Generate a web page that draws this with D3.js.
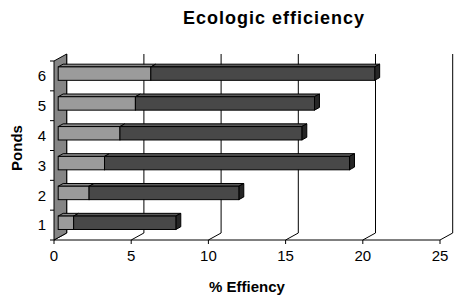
<!DOCTYPE html>
<meta charset="utf-8">
<style>
body { margin: 0; background: #fff; }
text { font-family: Arial, "Liberation Sans", sans-serif; fill: #000; }
.tick-label { font-size: 15px; }
.title { font-size: 18px; font-weight: bold; letter-spacing: 1px; }
.axis-title { font-size: 15px; font-weight: bold; }
</style>
<body>
<script src="https://d3js.org/d3.v7.min.js"></script>
<script>
// ponds, bottom to top
var ponds = ["1", "2", "3", "4", "5", "6"];
// first (light) series and second (dark) series, % efficiency
var lightValues = [1, 2, 3, 4, 5, 6];
var darkValues = [6.62, 9.7, 15.87, 11.78, 11.6, 14.5];
var xTicks = [0, 5, 10, 15, 20, 25];

var width = 454, height = 299;

// depth of the 3d box, and where the bars sit inside it
var depth = {dx: 12.7, dy: -7};
var barFront = 0.33, barBack = 0.72;

var x = d3.scaleLinear().domain([0, 25]).range([54, 440]);
var y = d3.scaleBand().domain(ponds).range([240, 61]);

var svg = d3.select("body").append("svg")
    .attr("width", width)
    .attr("height", height);

var floorY = y.range()[0], topY = y.range()[1];

// back wall gridlines
svg.selectAll(".grid")
    .data(xTicks)
  .enter().append("line")
    .attr("x1", function(d) { return x(d) + depth.dx; })
    .attr("x2", function(d) { return x(d) + depth.dx; })
    .attr("y1", floorY + depth.dy)
    .attr("y2", topY + depth.dy)
    .style("stroke", "#000")
    .style("stroke-width", 1);

// floor slants
svg.selectAll(".floor")
    .data(xTicks)
  .enter().append("line")
    .attr("x1", function(d) { return x(d); })
    .attr("x2", function(d) { return x(d) + depth.dx; })
    .attr("y1", floorY)
    .attr("y2", floorY + depth.dy)
    .style("stroke", "#000")
    .style("stroke-width", 1);

// left wall
var x0 = x(0);
svg.append("polygon")
    .attr("points", [
      [x0, floorY], [x0, topY],
      [x0 + depth.dx, topY + depth.dy], [x0 + depth.dx, floorY + depth.dy]
    ].join(" "))
    .style("fill", "#858585")
    .style("stroke", "#000")
    .style("stroke-width", 1);

// x axis line and ticks
svg.append("line")
    .attr("x1", x(0)).attr("x2", x(25))
    .attr("y1", floorY).attr("y2", floorY)
    .style("stroke", "#000");

svg.selectAll(".xtick")
    .data(xTicks)
  .enter().append("line")
    .attr("x1", function(d) { return x(d); })
    .attr("x2", function(d) { return x(d); })
    .attr("y1", floorY).attr("y2", floorY + 4)
    .style("stroke", "#000");

svg.selectAll(".xlabel")
    .data(xTicks)
  .enter().append("text")
    .attr("class", "tick-label")
    .attr("x", function(d) { return x(d); })
    .attr("y", floorY + 21)
    .attr("text-anchor", "middle")
    .text(function(d) { return d; });

// y ticks at band edges
var yEdges = ponds.map(function(p) { return y(p); }).concat([floorY]);
svg.selectAll(".ytick")
    .data(yEdges)
  .enter().append("line")
    .attr("x1", x0 - 4).attr("x2", x0)
    .attr("y1", function(d) { return d; })
    .attr("y2", function(d) { return d; })
    .style("stroke", "#000");

svg.selectAll(".ylabel")
    .data(ponds)
  .enter().append("text")
    .attr("class", "tick-label")
    .attr("x", x0 - 8)
    .attr("y", function(d) { return y(d) + y.bandwidth() / 2; })
    .attr("dy", ".36em")
    .attr("text-anchor", "end")
    .text(function(d) { return d; });

// bars
var fdx = depth.dx * barFront, fdy = depth.dy * barFront;
var bdx = depth.dx * (barBack - barFront), bdy = depth.dy * (barBack - barFront);
var faceH = y.bandwidth() * 0.45;

function box(g, xa, xb, yt, yb, cols, side) {
  g.append("polygon")
      .attr("points", [[xa, yt], [xb, yt], [xb + bdx, yt + bdy], [xa + bdx, yt + bdy]].join(" "))
      .style("fill", cols.top).style("stroke", "#000").style("stroke-width", 1);
  if (side) {
    g.append("polygon")
        .attr("points", [[xb, yt], [xb + bdx, yt + bdy], [xb + bdx, yb + bdy], [xb, yb]].join(" "))
        .style("fill", cols.side).style("stroke", "#000").style("stroke-width", 1);
  }
  g.append("rect")
      .attr("x", xa).attr("y", yt)
      .attr("width", xb - xa).attr("height", yb - yt)
      .style("fill", cols.front).style("stroke", "#000").style("stroke-width", 1);
}

var light = {front: "#9b9b9b", top: "#888888", side: "#6a6a6a"};
var dark = {front: "#484848", top: "#5a5a5a", side: "#262626"};

// draw from top row down so lower bars overlap correctly
ponds.slice().reverse().forEach(function(p) {
  var i = ponds.indexOf(p);
  var cy = y(p) + y.bandwidth() / 2 + fdy;
  var yt = cy - faceH / 2, yb = cy + faceH / 2;
  var g = svg.append("g");
  var xa = x(0) + fdx, xm = x(lightValues[i]) + fdx, xb = x(lightValues[i] + darkValues[i]) + fdx;
  box(g, xa, xm, yt, yb, light, false);
  box(g, xm, xb, yt, yb, dark, true);
});

// titles
svg.append("text")
    .attr("class", "title")
    .attr("x", 274)
    .attr("y", 24)
    .attr("text-anchor", "middle")
    .text("Ecologic efficiency");

svg.append("text")
    .attr("class", "axis-title")
    .attr("x", 247)
    .attr("y", 292)
    .attr("text-anchor", "middle")
    .text("% Effiency");

svg.append("text")
    .attr("class", "axis-title")
    .attr("transform", "translate(22,148) rotate(-90)")
    .attr("text-anchor", "middle")
    .text("Ponds");
</script>
